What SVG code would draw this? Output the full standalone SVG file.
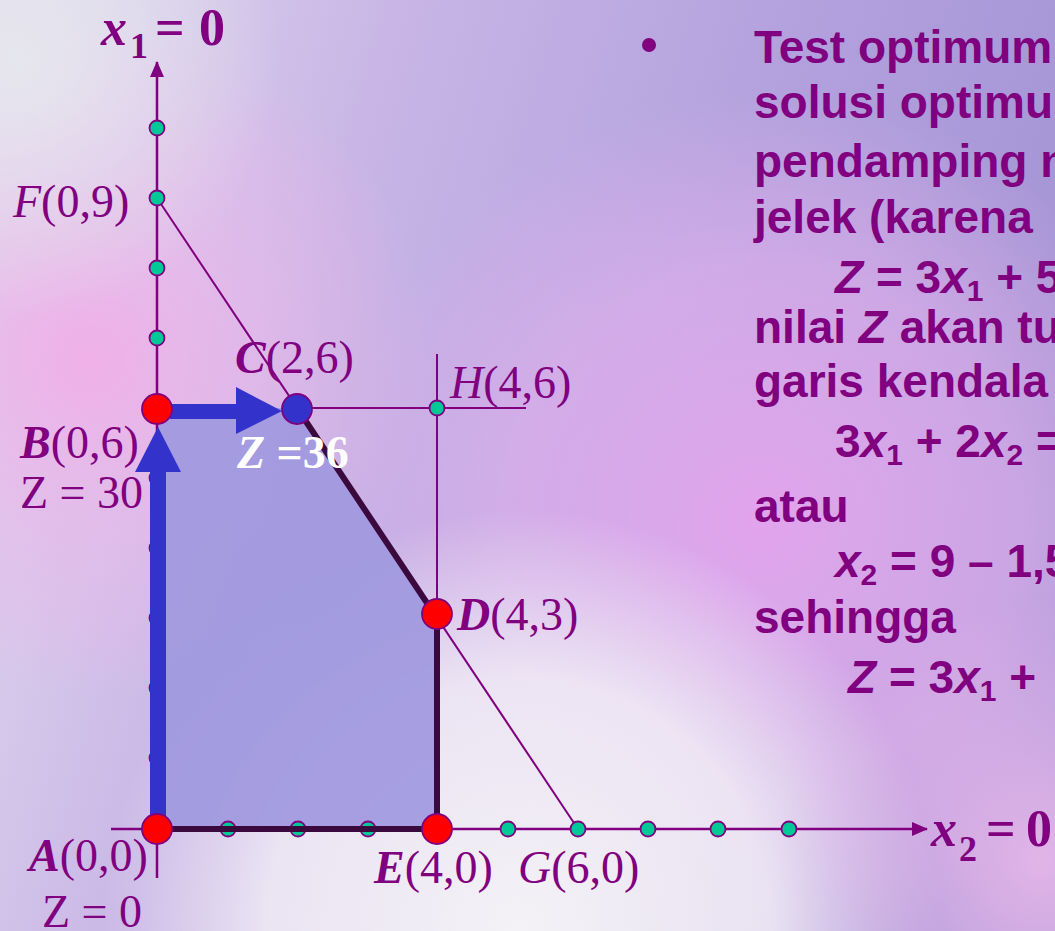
<svg xmlns="http://www.w3.org/2000/svg" width="1055" height="931" viewBox="0 0 1055 931">
<defs>
  <linearGradient id="bgBase" x1="0" y1="0" x2="1" y2="0.25">
    <stop offset="0" stop-color="#e2dcee"/>
    <stop offset="0.35" stop-color="#c9b6e6"/>
    <stop offset="0.7" stop-color="#b3a2de"/>
    <stop offset="1" stop-color="#a796d6"/>
  </linearGradient>
  <radialGradient id="pinkMid" cx="760" cy="520" r="430" gradientUnits="userSpaceOnUse">
    <stop offset="0" stop-color="#e4a4ee" stop-opacity="0.95"/>
    <stop offset="0.6" stop-color="#e2b0ec" stop-opacity="0.6"/>
    <stop offset="1" stop-color="#e2b0ec" stop-opacity="0"/>
  </radialGradient>
  <radialGradient id="pinkLeft" cx="90" cy="360" r="340" gradientUnits="userSpaceOnUse">
    <stop offset="0" stop-color="#f0b0e8" stop-opacity="1"/>
    <stop offset="0.5" stop-color="#eab8ea" stop-opacity="0.6"/>
    <stop offset="1" stop-color="#f0b4ea" stop-opacity="0"/>
  </radialGradient>
  <radialGradient id="whiteBottom" cx="520" cy="930" r="420" gradientUnits="userSpaceOnUse">
    <stop offset="0" stop-color="#f4f2f6" stop-opacity="1"/>
    <stop offset="0.6" stop-color="#f2eef6" stop-opacity="0.85"/>
    <stop offset="1" stop-color="#f2eef6" stop-opacity="0"/>
  </radialGradient>
  <radialGradient id="pinkBR" cx="1040" cy="860" r="260" gradientUnits="userSpaceOnUse">
    <stop offset="0" stop-color="#e8b8ea" stop-opacity="0.9"/>
    <stop offset="1" stop-color="#e8b8ea" stop-opacity="0"/>
  </radialGradient>
  <radialGradient id="whiteTL" cx="20" cy="60" r="260" gradientUnits="userSpaceOnUse">
    <stop offset="0" stop-color="#e6e6ee" stop-opacity="1"/>
    <stop offset="1" stop-color="#e6e6ee" stop-opacity="0"/>
  </radialGradient>
  <marker id="arrAxis" viewBox="0 0 16 14" refX="15" refY="7" markerWidth="16" markerHeight="14" markerUnits="userSpaceOnUse" orient="auto">
    <path d="M0,0 L16,7 L0,14 Z" fill="#800080"/>
  </marker>
  <style>
    .axis { stroke:#800080; stroke-width:2.5; fill:none; }
    .thin { stroke:#800080; stroke-width:2; fill:none; }
    .bound { stroke:#3a0a3e; stroke-width:6; fill:none; stroke-linejoin:miter; }
    .gdot { fill:#00c896; stroke:#800080; stroke-width:1.8; }
    .rdot { fill:#ff0000; stroke:#800080; stroke-width:1.8; }
    .bdot { fill:#3333cc; stroke:#800080; stroke-width:1.8; }
    .blue { fill:#3333cc; }
    .lbl { font-family:"Liberation Serif","Times New Roman",serif; font-size:46px; fill:#800080; }
    .hd { font-family:"Liberation Serif","Times New Roman",serif; font-size:52px; font-weight:bold; fill:#800080; }
    .hsub { font-family:"Liberation Serif","Times New Roman",serif; font-size:36px; font-weight:bold; fill:#800080; }
    .it { font-style:italic; }
    .bi { font-style:italic; font-weight:bold; }
    .txt { font-family:"Liberation Sans",Arial,sans-serif; font-size:46px; font-weight:bold; fill:#800080; }
    .sub { font-size:30px; }
  </style>
</defs>

<g id="background">
  <rect x="0" y="0" width="1055" height="931" fill="url(#bgBase)"/>
  <rect x="0" y="0" width="1055" height="931" fill="url(#pinkMid)"/>
  <rect x="0" y="0" width="1055" height="931" fill="url(#pinkLeft)"/>
  <rect x="0" y="0" width="1055" height="931" fill="url(#whiteBottom)"/>
  <rect x="0" y="0" width="1055" height="931" fill="url(#pinkBR)"/>
  <rect x="0" y="0" width="1055" height="931" fill="url(#whiteTL)"/>
</g>

<g id="feasible-region">
  <polygon points="157,829 157,408 297,408 437,618 437,829" fill="#9f98de" fill-opacity="0.92"/>
</g>

<g id="connectors">
  <line class="thin" x1="157" y1="198" x2="578" y2="829"/>
  <line class="thin" x1="297" y1="408" x2="526" y2="408"/>
  <line class="thin" x1="437" y1="354" x2="437" y2="618"/>
  <line class="axis" x1="157" y1="878" x2="157" y2="62" marker-end="url(#arrAxis)"/>
  <line class="axis" x1="111" y1="829" x2="927" y2="829" marker-end="url(#arrAxis)"/>
  <g id="grid-dots">
    <circle class="gdot" cx="157" cy="758" r="7.5"/>
    <circle class="gdot" cx="157" cy="688" r="7.5"/>
    <circle class="gdot" cx="157" cy="618" r="7.5"/>
    <circle class="gdot" cx="157" cy="548" r="7.5"/>
    <circle class="gdot" cx="157" cy="478" r="7.5"/>
    <circle class="gdot" cx="157" cy="338" r="7.5"/>
    <circle class="gdot" cx="157" cy="268" r="7.5"/>
    <circle class="gdot" cx="157" cy="198" r="7.5"/>
    <circle class="gdot" cx="157" cy="128" r="7.5"/>
    <circle class="gdot" cx="228" cy="829" r="7.5"/>
    <circle class="gdot" cx="298" cy="829" r="7.5"/>
    <circle class="gdot" cx="368" cy="829" r="7.5"/>
    <circle class="gdot" cx="508" cy="829" r="7.5"/>
    <circle class="gdot" cx="578" cy="829" r="7.5"/>
    <circle class="gdot" cx="648" cy="829" r="7.5"/>
    <circle class="gdot" cx="718" cy="829" r="7.5"/>
    <circle class="gdot" cx="789" cy="829" r="7.5"/>
  </g>
  <polyline class="bound" points="297,408 437,618 437,829 157,829"/>
  <g id="path-arrows">
    <rect class="blue" x="150" y="470" width="16" height="359"/>
    <polygon class="blue" points="135,472 181,472 158,427"/>
    <rect class="blue" x="170" y="404" width="68" height="15"/>
    <polygon class="blue" points="236,387 236,434 282,411"/>
  </g>
</g>

<g id="node-A"><circle class="rdot" cx="157" cy="829" r="15"/>
  <text class="lbl" x="29" y="871"><tspan class="bi">A</tspan>(0,0)</text>
  <text class="lbl" x="42" y="927">Z = 0</text></g>
<g id="node-B"><circle class="rdot" cx="157" cy="409" r="15"/>
  <text class="lbl" x="20" y="458"><tspan class="bi">B</tspan>(0,6)</text>
  <text class="lbl" x="20" y="508">Z = 30</text></g>
<g id="node-C"><circle class="bdot" cx="297" cy="409" r="15"/>
  <text class="lbl" x="235" y="373"><tspan class="bi">C</tspan>(2,6)</text>
  <text class="lbl" x="237" y="468" style="fill:#ffffff;font-weight:bold"><tspan class="it">Z</tspan> =36</text></g>
<g id="node-D"><circle class="rdot" cx="437" cy="614" r="15"/>
  <text class="lbl" x="457" y="630"><tspan class="bi">D</tspan>(4,3)</text></g>
<g id="node-E"><circle class="rdot" cx="437" cy="829" r="15"/>
  <text class="lbl" x="374" y="883"><tspan class="bi">E</tspan>(4,0)</text></g>
<g id="node-F">
  <text class="lbl" x="13" y="217"><tspan class="it">F</tspan>(0,9)</text></g>
<g id="node-G">
  <text class="lbl" x="518" y="883"><tspan class="it">G</tspan>(6,0)</text></g>
<g id="node-H"><circle class="gdot" cx="437" cy="408" r="7.5"/>
  <text class="lbl" x="450" y="398"><tspan class="it">H</tspan>(4,6)</text></g>

<g id="axis-labels">
  <text class="hd it" x="101" y="45">x</text>
  <text class="hsub" x="130" y="58">1</text>
  <text class="hd" x="155" y="45">=</text>
  <text class="hd" x="199" y="45">0</text>
  <text class="hd it" x="931" y="846">x</text>
  <text class="hsub" x="959" y="861">2</text>
  <text class="hd" x="986" y="846">=</text>
  <text class="hd" x="1026" y="846">0</text>
</g>

<g id="explanation">
  <circle cx="649" cy="45" r="7" fill="#800080"/>
  <text class="txt" x="754" y="63">Test optimum</text>
  <text class="txt" x="754" y="118">solusi optimu</text>
  <text class="txt" x="754" y="177">pendamping n</text>
  <text class="txt" x="754" y="233">jelek (karena</text>
  <text class="txt" x="835" y="293"><tspan class="it">Z</tspan> = 3<tspan class="it">x</tspan><tspan class="sub" dy="8">1</tspan><tspan dy="-8"> + 5</tspan></text>
  <text class="txt" x="754" y="343">nilai <tspan class="it">Z</tspan> akan tu</text>
  <text class="txt" x="754" y="397">garis kendala</text>
  <text class="txt" x="835" y="457">3<tspan class="it">x</tspan><tspan class="sub" dy="8">1</tspan><tspan dy="-8"> + 2</tspan><tspan class="it">x</tspan><tspan class="sub" dy="8">2</tspan><tspan dy="-8"> =</tspan></text>
  <text class="txt" x="754" y="522">atau</text>
  <text class="txt" x="835" y="577"><tspan class="it">x</tspan><tspan class="sub" dy="8">2</tspan><tspan dy="-8"> = 9 – 1,5</tspan></text>
  <text class="txt" x="754" y="633">sehingga</text>
  <text class="txt" x="848" y="693"><tspan class="it">Z</tspan> = 3<tspan class="it">x</tspan><tspan class="sub" dy="8">1</tspan><tspan dy="-8"> +</tspan></text>
</g>
</svg>
